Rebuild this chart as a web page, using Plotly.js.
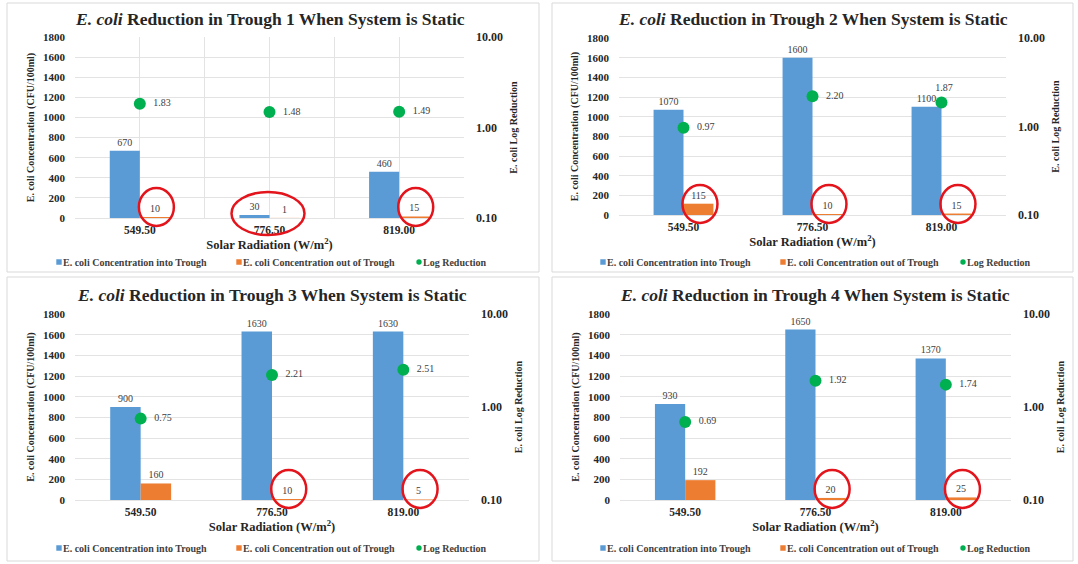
<!DOCTYPE html>
<html><head><meta charset="utf-8">
<script src="https://cdn.plot.ly/plotly-3.0.1.min.js"></script>
<style>
html,body{margin:0;padding:0;background:#fff}
#chart{width:1078px;height:564px}
g.legendpoints path{transform:translate(36px,0px) scale(0.45)}
</style>
</head><body><div id="chart"></div>
<script>
// ---- data ----
const categories = ['549.50', '776.50', '819.00'];
const troughLabels = ['1', '2', '3', '4'];
const seriesNames = ['E. coli Concentration into Trough', 'E. coli Concentration out of Trough', 'Log Reduction'];
const logTicks = [0.1, 1, 10];

const into1 = [670, 30, 460];
const out1 = [10, 1, 15];
const log1 = [1.83, 1.48, 1.49];

const into2 = [1070, 1600, 1100];
const out2 = [115, 10, 15];
const log2 = [0.97, 2.20, 1.87];

const into3 = [900, 1630, 1630];
const out3 = [160, 10, 5];
const log3 = [0.75, 2.21, 2.51];

const into4 = [930, 1650, 1370];
const out4 = [192, 20, 25];
const log4 = [0.69, 1.92, 1.74];

// which values are highlighted with red circles
const circled1 = ['out', 'pair', 'out'];
const circled2 = ['out', 'out', 'out'];
const circled3 = [null, 'out', 'out'];
const circled4 = [null, 'out', 'out'];

// ---- style / layout ----
const W = 1078, H = 564;
const FONT = 'Liberation Serif, Times New Roman, serif';
const BLUE = '#5b9bd5', ORANGE = '#ed7d31', GREEN = '#00b050', RED = '#e3141c';
const GRID = '#e3e3e3', FRAME = '#d9d9d9', TXT = '#262626', LBL = '#404040';
const BARGAP = 0.536;

const panels = [
  {into: into1, out: out1, log: log1, marks: circled1, box: [75, 464, 37, 218], frame: [7, 539, 3, 272], titleY: 19, legend: [23, 262], vgrid: true,
   logPos: ['middle right', 'middle right', 'middle right']},
  {into: into2, out: out2, log: log2, marks: circled2, box: [619, 1006, 38, 215], frame: [552, 1073, 3, 272], titleY: 19, legend: [567, 262], vgrid: false,
   logPos: ['middle right', 'middle right', 'top center']},
  {into: into3, out: out3, log: log3, marks: circled3, box: [75, 469, 314, 500], frame: [7, 539, 277, 561], titleY: 295, legend: [23, 548], vgrid: false,
   logPos: ['middle right', 'middle right', 'middle right']},
  {into: into4, out: out4, log: log4, marks: circled4, box: [620, 1011, 314, 500], frame: [552, 1073, 277, 561], titleY: 295, legend: [567, 548], vgrid: false,
   logPos: ['middle right', 'middle right', 'middle right']}
];

const idx = categories.map((c, i) => i);
const boundaries = categories.slice(1).map((c, i) => i + 0.5);
const orangeOffset = (1 - BARGAP) / 4;
const toDomainX = v => (v + 0.5) / categories.length;

const traces = [];
const layout = {
  width: W, height: H, margin: {l: 0, r: 0, t: 0, b: 0, autoexpand: false},
  paper_bgcolor: '#fff', plot_bgcolor: 'rgba(0,0,0,0)',
  barmode: 'group', bargap: BARGAP, bargroupgap: 0,
  font: {family: FONT, color: TXT},
  showlegend: true,
  shapes: [], annotations: []
};

panels.forEach((p, k) => {
  const xName = k === 0 ? 'xaxis' : 'xaxis' + (k + 1);
  const xRef = k === 0 ? 'x' : 'x' + (k + 1);
  const yl = 2 * k + 1, yr = 2 * k + 2;
  const ylName = yl === 1 ? 'yaxis' : 'yaxis' + yl;
  const ylRef = yl === 1 ? 'y' : 'y' + yl;
  const yrName = 'yaxis' + yr, yrRef = 'y' + yr;
  const legName = k === 0 ? 'legend' : 'legend' + (k + 1);
  const [bx0, bx1, by0, by1] = p.box;

  layout[xName] = {
    domain: [bx0 / W, bx1 / W], anchor: ylRef, range: [-0.5, categories.length - 0.5],
    tickmode: 'array', tickvals: idx, ticktext: categories,
    showgrid: p.vgrid, gridcolor: GRID, zeroline: false, showline: false, ticks: '',
    ticklabelstandoff: 3,
    tickfont: {family: FONT, size: 11.5, weight: 'bold', color: TXT},
    title: {text: 'Solar Radiation (W/m<sup>2</sup>)', font: {family: FONT, size: 12.5, weight: 'bold', color: TXT}, standoff: 1},
    fixedrange: true
  };
  if (p.vgrid) {
    layout[xName].minor = {tickmode: 'array', tickvals: boundaries, showgrid: true, gridcolor: GRID, ticks: ''};
  }
  layout[ylName] = {
    domain: [1 - by1 / H, 1 - by0 / H], anchor: xRef, range: [0, 1800], tick0: 0, dtick: 200,
    showgrid: true, gridcolor: GRID, zeroline: true, zerolinecolor: GRID, showline: false, ticks: '',
    ticklabelstandoff: 9,
    tickfont: {family: FONT, size: 11, weight: 'bold', color: TXT},
    title: {text: 'E. coli Concentration (CFU/100ml)', font: {family: FONT, size: 10, weight: 'bold', color: TXT}, standoff: 6},
    fixedrange: true
  };
  layout[yrName] = {
    overlaying: ylRef, side: 'right', anchor: xRef, type: 'log', range: [-1, 1],
    tickmode: 'array', tickvals: logTicks, tickformat: '.2f',
    showgrid: false, zeroline: false, showline: false, ticks: '',
    ticklabelstandoff: 11,
    tickfont: {family: FONT, size: 12, weight: 'bold', color: TXT},
    title: {text: 'E. coli Log Reduction', font: {family: FONT, size: 10, weight: 'bold', color: TXT}, standoff: 7},
    fixedrange: true
  };
  layout[legName] = {
    orientation: 'h', x: p.legend[0] / W, xanchor: 'left', y: 1 - p.legend[1] / H, yanchor: 'middle',
    entrywidth: 135, font: {family: FONT, size: 10, weight: 'bold', color: LBL},
    bgcolor: 'rgba(0,0,0,0)', itemclick: false, itemdoubleclick: false
  };

  const labelFont = {family: FONT, size: 10, color: LBL};
  traces.push({
    type: 'bar', x: idx, y: p.into, xaxis: xRef, yaxis: ylRef, name: seriesNames[0], legend: legName,
    marker: {color: BLUE}, text: p.into.map(String), textposition: 'outside', textfont: labelFont,
    cliponaxis: false, constraintext: 'none', hoverinfo: 'skip'
  });
  traces.push({
    type: 'bar', x: idx, y: p.out, xaxis: xRef, yaxis: ylRef, name: seriesNames[1], legend: legName,
    marker: {color: ORANGE}, text: p.out.map(String), textposition: 'outside', textfont: labelFont,
    cliponaxis: false, constraintext: 'none', hoverinfo: 'skip'
  });
  traces.push({
    type: 'scatter', mode: 'markers+text', x: idx, y: p.log, xaxis: xRef, yaxis: yrRef, name: seriesNames[2], legend: legName,
    marker: {color: GREEN, size: 12}, text: p.log.map(v => '  ' + v.toFixed(2)), textposition: p.logPos, textfont: labelFont,
    cliponaxis: false, hoverinfo: 'skip'
  });

  // panel frame
  const [fx0, fx1, fy0, fy1] = p.frame;
  layout.shapes.push({type: 'rect', xref: 'paper', yref: 'paper', x0: fx0 / W, x1: fx1 / W, y0: 1 - fy1 / H, y1: 1 - fy0 / H,
    line: {color: FRAME, width: 1}, fillcolor: 'rgba(0,0,0,0)', layer: 'below'});

  // red highlight circles (domain refs so they are not clipped by the plot area)
  p.marks.forEach((m, i) => {
    if (m === 'out') {
      layout.shapes.push({type: 'circle', xref: xRef + ' domain', yref: ylRef + ' domain', xsizemode: 'pixel', ysizemode: 'pixel',
        xanchor: toDomainX(i + orangeOffset), yanchor: 0, x0: -16, x1: 19, y0: -8, y1: 30,
        line: {color: RED, width: 2.5}, fillcolor: 'rgba(0,0,0,0)'});
    } else if (m === 'pair') {
      layout.shapes.push({type: 'circle', xref: xRef + ' domain', yref: ylRef + ' domain', xsizemode: 'pixel', ysizemode: 'pixel',
        xanchor: toDomainX(i), yanchor: 0, x0: -38, x1: 35, y0: -17, y1: 26,
        line: {color: RED, width: 2.5}, fillcolor: 'rgba(0,0,0,0)'});
    }
  });

  // panel title
  layout.annotations.push({
    xref: 'paper', yref: 'paper', x: (bx0 + bx1) / 2 / W, y: 1 - p.titleY / H, xanchor: 'center', yanchor: 'middle',
    text: '<i>E. coli</i> Reduction in Trough ' + troughLabels[k] + ' When System is Static',
    showarrow: false, font: {family: FONT, size: 17.5, weight: 'bold', color: TXT}
  });
});

Plotly.newPlot('chart', traces, layout, {displayModeBar: false, staticPlot: true});
</script>
</body></html>
